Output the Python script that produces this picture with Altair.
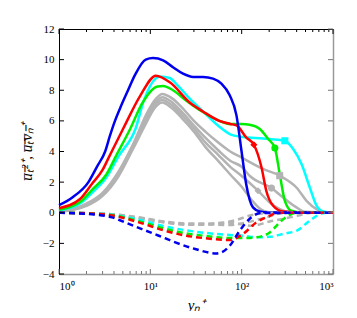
import altair as alt
import pandas as pd

# ---------------- data ----------------
blue_x = [1, 1.4, 2.1, 2.6, 3.2, 3.6, 4.1, 4.8, 5.7, 6.8, 8.9, 10.7, 13.8, 17.7, 22.8, 29.4, 37.8, 48.6, 60, 74, 87.7, 99.5, 112, 133, 158, 200, 1000]
blue_y = [0.5, 1.0, 2.0, 3.0, 4.0, 5.0, 6.0, 7.0, 8.0, 9.0, 10.0, 10.1, 9.95, 9.5, 9.08, 8.87, 8.87, 8.76, 8.43, 7.67, 6.36, 4.05, 1.88, 0.35, 0.08, 0.02, 0]

red_x = [1, 1.7, 2.3, 3.0, 3.5, 5.1, 7.8, 11.5, 16.5, 27, 38, 57, 75, 88, 112, 136, 165, 186, 221, 284, 400, 1000]
red_y = [0.3, 0.9, 1.9, 2.8, 3.6, 5.55, 7.67, 8.95, 8.5, 7.2, 6.6, 6.0, 5.8, 5.7, 4.92, 4.44, 2.96, 1.44, 0.46, 0.08, 0.02, 0]

green_x = [1, 1.7, 2.3, 3.3, 4.2, 6.05, 8.1, 12, 13.8, 17.7, 24.8, 38, 57, 75, 100, 122, 158, 195, 231, 261, 297, 351, 450, 1000]
green_y = [0.2, 0.7, 1.5, 2.5, 3.7, 5.5, 7.12, 8.25, 8.28, 8.0, 7.32, 6.56, 6.0, 5.8, 5.8, 5.75, 5.47, 4.82, 4.23, 2.53, 0.78, 0.13, 0.02, 0]

cyan_x = [1, 1.7, 2.3, 3.3, 4.5, 6.9, 8.5, 11.4, 12.7, 16.3, 20, 27, 38, 57.5, 74, 103, 171, 297, 366, 452, 557, 660, 780, 1000]
cyan_y = [0.15, 0.6, 1.3, 2.3, 3.7, 5.5, 7.34, 8.76, 8.9, 8.8, 8.3, 7.45, 6.6, 5.6, 5.14, 4.95, 4.85, 4.7, 4.16, 3.18, 1.65, 0.46, 0.08, 0]

grey1_x = [1, 1.5, 2, 3, 4.5, 6.5, 9, 11, 13.5, 17, 22, 30, 40, 55, 75, 100, 171, 261, 398, 513, 660, 800, 1000]
grey1_y = [0.12, 0.3, 0.6, 1.3, 2.7, 4.5, 6.4, 7.3, 7.76, 7.5, 6.9, 6.0, 5.3, 4.6, 4.0, 3.6, 2.86, 2.42, 1.65, 0.78, 0.24, 0.03, 0]
grey2_x = [1, 1.5, 2, 3, 4.5, 6.5, 9, 11, 13.5, 17, 22, 30, 40, 55, 75, 100, 123, 212, 284, 398, 500, 1000]
grey2_y = [0.1, 0.28, 0.55, 1.25, 2.6, 4.4, 6.2, 7.1, 7.55, 7.25, 6.6, 5.7, 4.9, 4.1, 3.4, 3.0, 2.4, 1.61, 1.0, 0.35, 0.06, 0]
grey3_x = [1, 1.5, 2, 3, 4.5, 6.5, 9, 11, 13.5, 17, 22, 30, 40, 55, 75, 100, 151, 203, 261, 350, 1000]
grey3_y = [0.08, 0.25, 0.5, 1.2, 2.5, 4.3, 6.0, 6.95, 7.37, 7.05, 6.4, 5.5, 4.6, 3.8, 3.0, 2.4, 1.44, 0.67, 0.24, 0.03, 0]
grey4_x = [1, 1.5, 2, 3, 4.5, 6.5, 9, 11, 13.5, 17, 22, 30, 40, 55, 75, 100, 130, 160, 200, 1000]
grey4_y = [0.06, 0.22, 0.45, 1.1, 2.4, 4.2, 5.85, 6.8, 7.2, 6.85, 6.2, 5.3, 4.3, 3.4, 2.5, 1.7, 0.8, 0.25, 0.04, 0]

dblue_x = [1, 2.3, 3.8, 5.3, 8.1, 12.4, 18.8, 31, 53, 74, 95, 128, 160, 1000]
dblue_y = [0, -0.1, -0.3, -0.63, -1.07, -1.5, -1.94, -2.37, -2.66, -2.16, -1.18, -0.3, -0.02, 0]
dred_x = [1, 2.3, 4, 7.5, 14.6, 24.8, 38, 74, 103, 145, 203, 250, 1000]
dred_y = [0, -0.05, -0.2, -0.63, -1.18, -1.5, -1.65, -1.78, -1.39, -0.63, -0.2, 0, 0]
dgreen_x = [1, 2.3, 4, 7.5, 14.6, 24.8, 38, 74, 103, 145, 203, 261, 322, 400, 1000]
dgreen_y = [0, -0.05, -0.18, -0.55, -1.05, -1.35, -1.5, -1.65, -1.65, -1.6, -1.29, -0.63, -0.2, 0, 0]
dcyan_x = [1, 2.3, 4, 7.5, 14.6, 24.8, 38, 74, 103, 145, 203, 300, 398, 557, 720, 850, 1000]
dcyan_y = [0, -0.04, -0.15, -0.45, -0.9, -1.15, -1.3, -1.45, -1.5, -1.6, -1.57, -1.35, -1.18, -0.52, -0.09, 0, 0]
dgrey1_x = [1, 2.3, 4, 7.5, 14.6, 24.8, 40, 55, 70, 95, 130, 203, 280, 400, 600, 1000]
dgrey1_y = [0, -0.03, -0.12, -0.35, -0.65, -0.78, -0.78, -0.7, -0.63, -0.74, -0.85, -0.57, -0.41, -0.2, 0, 0]
dgrey2_x = [1, 2.3, 4, 7.5, 14.6, 24.8, 40, 74, 100, 140, 200, 260, 300, 1000]
dgrey2_y = [0, -0.03, -0.11, -0.33, -0.62, -0.75, -0.75, -0.8, -0.7, -0.5, -0.25, -0.05, 0, 0]
dgrey3_x = [1, 2.3, 4, 7.5, 14.6, 24.8, 40, 60, 90, 120, 160, 200, 1000]
dgrey3_y = [0, -0.03, -0.1, -0.3, -0.58, -0.7, -0.7, -0.65, -0.45, -0.2, -0.05, 0, 0]

marker_x = [261, 212, 151, 136, 231, 297]
marker_y = [2.42, 1.61, 1.44, 4.44, 4.23, 4.7]
marker_series = ["grey1", "grey2", "grey3", "red", "green", "cyan"]
marker_shape = ["square", "circle", "diamond", "diamond", "circle", "square"]

x_major = [1, 10, 100, 1000]
x_minor = [2, 3, 4, 5, 6, 7, 8, 9, 20, 30, 40, 50, 60, 70, 80, 90, 200, 300, 400, 500, 600, 700, 800, 900]
y_ticks = [-4, -2, 0, 2, 4, 6, 8, 10, 12]

series_names = ["grey1", "grey2", "grey3", "grey4", "red", "green", "cyan", "blue"]
series_colors = ["#b3b3b3", "#b3b3b3", "#b3b3b3", "#b3b3b3", "#ff0000", "#00ee00", "#00ffff", "#0000ee"]

# ---------------- build tables ----------------
def mk(name, xs, ys, kind):
    return pd.DataFrame({"x": xs, "y": ys, "s": name, "kind": kind, "i": range(len(xs))})

solid = pd.concat([
    mk("grey4", grey4_x, grey4_y, "solid"), mk("grey3", grey3_x, grey3_y, "solid"),
    mk("grey2", grey2_x, grey2_y, "solid"), mk("grey1", grey1_x, grey1_y, "solid"),
    mk("cyan", cyan_x, cyan_y, "solid"), mk("green", green_x, green_y, "solid"),
    mk("red", red_x, red_y, "solid"), mk("blue", blue_x, blue_y, "solid"),
])
dashed = pd.concat([
    mk("grey3", dgrey3_x, dgrey3_y, "dash"), mk("grey2", dgrey2_x, dgrey2_y, "dash"),
    mk("grey1", dgrey1_x, dgrey1_y, "dash"), mk("cyan", dcyan_x, dcyan_y, "dash"),
    mk("green", dgreen_x, dgreen_y, "dash"), mk("red", dred_x, dred_y, "dash"),
    mk("blue", dblue_x, dblue_y, "dash"),
])
markers = pd.DataFrame({"x": marker_x, "y": marker_y, "s": marker_series, "shape": marker_shape})

W, H = 274, 245
FONT = "Liberation Serif"

xscale = alt.Scale(type="log", domain=[1, 1000], nice=False)
yscale = alt.Scale(domain=[-4, 12], nice=False)
cscale = alt.Scale(domain=series_names, range=series_colors)

label_expr = "datum.value == 1 ? '10⁰' : datum.value == 10 ? '10¹' : datum.value == 100 ? '10²' : '10³'"

xaxis = alt.Axis(values=x_major, labelExpr=label_expr, grid=False, ticks=False,
                 domainColor="#999999", domainWidth=1.5, labelFont=FONT, labelFontSize=11,
                 labelColor="black", labelPadding=6, title="yₙ⁺", titleFont=FONT,
                 titleFontStyle="italic", titleFontWeight="normal", titleFontSize=15,
                 titlePadding=6, titleColor="black")
yaxis = alt.Axis(values=y_ticks, labelExpr="replace(datum.label, '-', '−')", grid=False,
                 ticks=False, domainColor="black", labelFont=FONT, labelFontSize=11,
                 labelColor="black", labelPadding=5,
                 title="u̅ₜ̅²⁺,  u̅ₜ̅v̅ₙ̅⁺", titleFont=FONT, titleFontStyle="italic",
                 titleFontWeight="normal", titleFontSize=15, titlePadding=8, titleColor="black")

base_sol = alt.Chart(solid).mark_line(strokeWidth=2.5, interpolate="monotone").encode(
    x=alt.X("x:Q", scale=xscale, axis=xaxis),
    y=alt.Y("y:Q", scale=yscale, axis=yaxis),
    color=alt.Color("s:N", scale=cscale, legend=None),
    detail="s:N",
    order="i:Q",
)
dash_l = alt.Chart(dashed).mark_line(strokeWidth=2.5, strokeDash=[6, 4], interpolate="monotone").encode(
    x=alt.X("x:Q", scale=xscale, axis=None),
    y=alt.Y("y:Q", scale=yscale, axis=None),
    color=alt.Color("s:N", scale=cscale, legend=None),
    detail="s:N",
    order="i:Q",
)
mark_pts = alt.Chart(markers).mark_point(filled=True, size=50, opacity=1).encode(
    x=alt.X("x:Q", scale=xscale, axis=None),
    y=alt.Y("y:Q", scale=yscale, axis=None),
    color=alt.Color("s:N", scale=cscale, legend=None),
    shape=alt.Shape("shape:N", scale=None, legend=None),
)

# top / right frame axes
top_ax = alt.Chart(pd.DataFrame({"x": [1]})).mark_point(opacity=0).encode(
    x=alt.X("x:Q", scale=xscale, axis=alt.Axis(orient="top", values=x_major, labels=False,
            ticks=False, grid=False, domainColor="black", title=None)),
)
right_ax = alt.Chart(pd.DataFrame({"y": [0]})).mark_point(opacity=0).encode(
    y=alt.Y("y:Q", scale=yscale, axis=alt.Axis(orient="right", values=y_ticks, labels=False,
            ticks=False, grid=False, domainColor="#999999", domainWidth=1.5, title=None)),
)

# inward ticks
xt_major = pd.DataFrame({"x": x_major})
xt_minor = pd.DataFrame({"x": x_minor})
def xticks(df, y0, y1, color):
    return alt.Chart(df).mark_rule(color=color, strokeWidth=1).encode(
        x=alt.X("x:Q", scale=xscale, axis=None), y=alt.value(y0), y2=alt.value(y1))
yt = pd.DataFrame({"y": y_ticks})
def yticks(x0, x1, color):
    return alt.Chart(yt).mark_rule(color=color, strokeWidth=1).encode(
        y=alt.Y("y:Q", scale=yscale, axis=None), x=alt.value(x0), x2=alt.value(x1))

tick_layers = [
    xticks(xt_major, H, H - 5, "#777777"), xticks(xt_minor, H, H - 3, "#777777"),
    xticks(xt_major, 0, 5, "black"), xticks(xt_minor, 0, 3, "black"),
    yticks(0, 5, "black"), yticks(W, W - 5, "#777777"),
]

chart = alt.layer(
    base_sol, dash_l, mark_pts, top_ax, right_ax, *tick_layers
).resolve_axis(x="independent", y="independent").properties(
    width=W, height=H, autosize="none",
    padding={"left": 51, "top": 21, "right": 16, "bottom": 37},
).configure_view(stroke=None).configure(background="white")

chart.save("out.html", embed_options={"renderer": "svg", "actions": False})
